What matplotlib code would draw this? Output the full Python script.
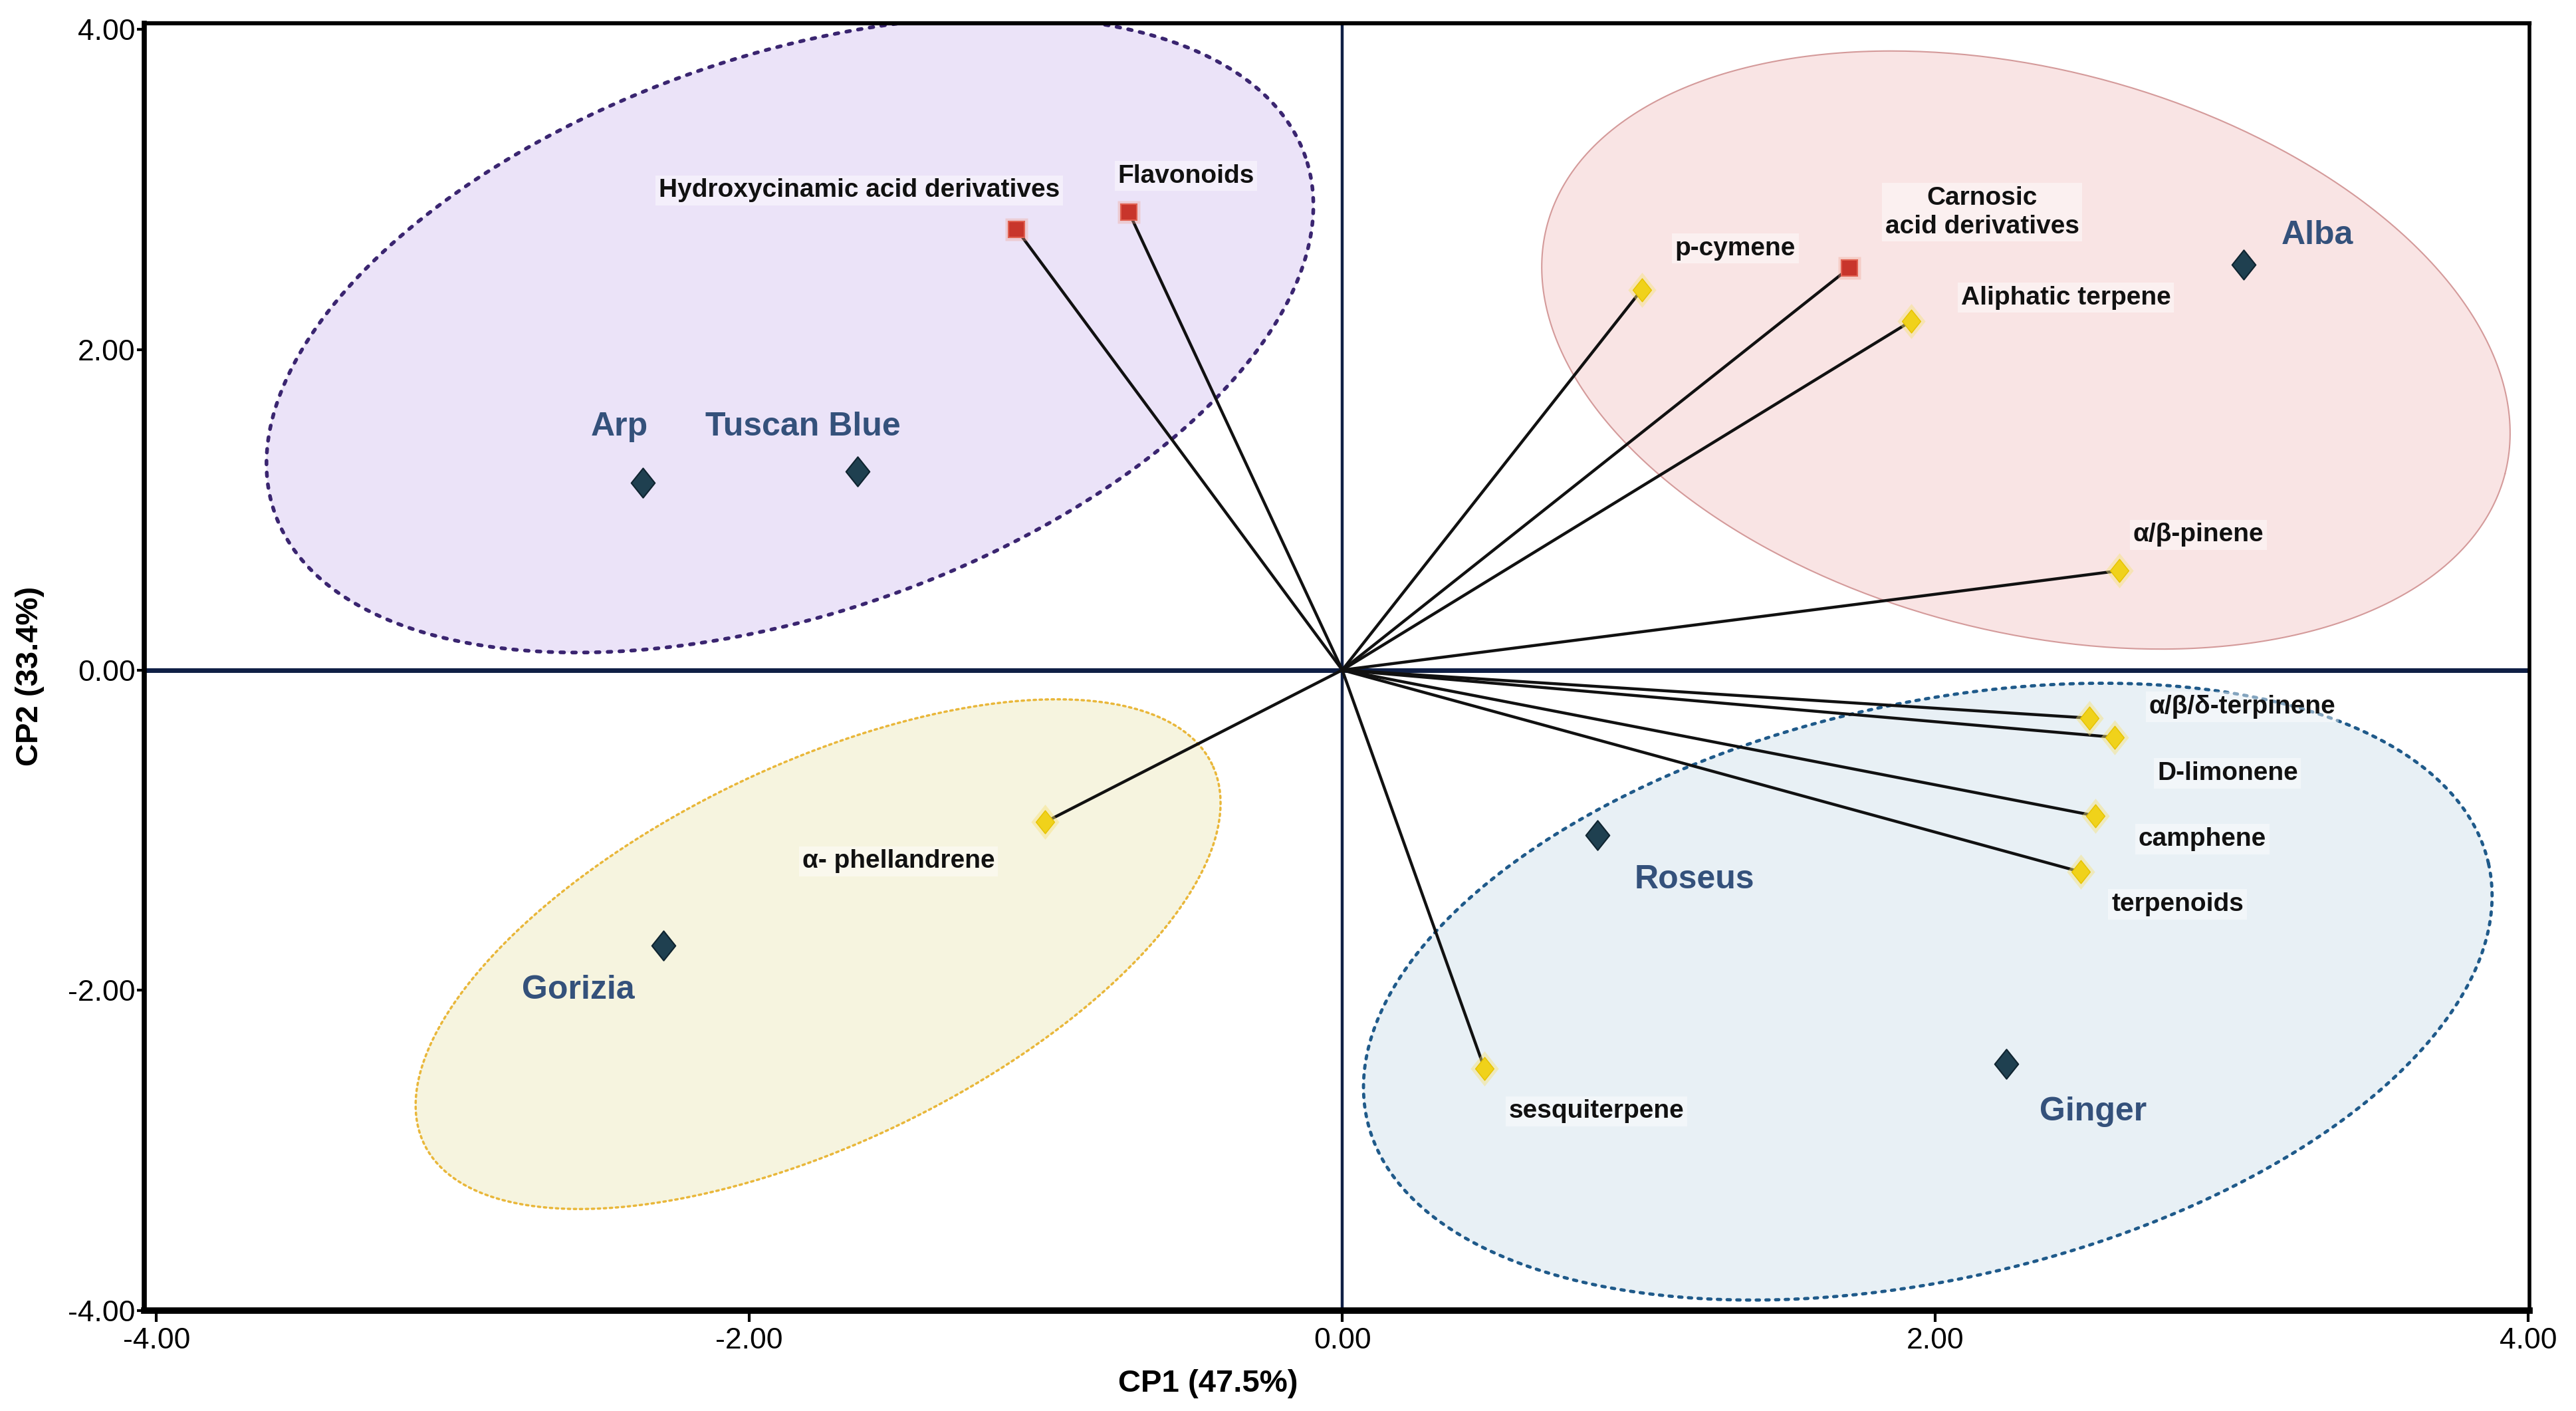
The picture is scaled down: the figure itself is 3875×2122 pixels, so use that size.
import numpy as np
import matplotlib
matplotlib.use("Agg")
import matplotlib.pyplot as plt
from matplotlib.patches import Polygon
from matplotlib.path import Path

plt.rcParams['font.family'] = ['Liberation Sans', 'DejaVu Sans']

# ---------------- data ----------------
samples = ["Arp", "Tuscan Blue", "Alba", "Roseus", "Ginger", "Gorizia"]
sample_cp1 = [-2.36, -1.635, 3.04, 0.86, 2.24, -2.29]
sample_cp2 = [1.17, 1.24, 2.53, -1.03, -2.46, -1.72]
sample_label_offset = [(-35, 84), (-82, 67), (111, 44), (146, -67), (131, -72), (-128, -67)]

variables = ["Hydroxycinamic acid derivatives", "Flavonoids", "p-cymene",
             "Carnosic\nacid derivatives", "Aliphatic terpene", "α/β-pinene",
             "α/β/δ-terpinene", "D-limonene", "camphene", "terpenoids",
             "sesquiterpene", "α- phellandrene"]
var_cp1 = [-1.098, -0.72, 1.01, 1.71, 1.92, 2.62, 2.52, 2.605, 2.54, 2.49, 0.48, -1.003]
var_cp2 = [2.75, 2.86, 2.375, 2.51, 2.18, 0.62, -0.30, -0.42, -0.91, -1.26, -2.49, -0.95]
var_class = ["phenolic", "phenolic", "terpene", "phenolic", "terpene", "terpene",
             "terpene", "terpene", "terpene", "terpene", "terpene", "terpene"]
var_label_offset = [(-237, 59), (86, 54), (141, 62), (200, 84), (232, 35), (119, 54),
                    (230, 17), (170, -54), (161, -35), (146, -49), (168, -64), (-220, -59)]

# group ellipses: centre (cp1, cp2), semi-axes (in CP1 units), angle (deg)
groups = ["purple", "pink", "yellow", "blue"]
ell_cx = [-1.863, 2.306, -1.768, 1.975]
ell_cy = [2.095, 1.998, -1.774, -2.008]
ell_a = [1.839, 1.669, 1.475, 1.940]
ell_b = [0.941, 0.948, 0.637, 0.970]
ell_ang = [19.0, -14.5, 25.7, 12.9]
ell_face = ["#ebe3f8", "#f9e4e4", "#f6f4df", "#e8f0f5"]
ell_edge = ["#3a2570", "#d49a9a", "#e9b73a", "#1f5a8a"]
ell_ls = [(0, (1, 2.2)), "-", (0, (1, 1.6)), (0, (1, 2.0))]
ell_lw = [4.0, 1.5, 2.5, 3.5]

xticks = [-4, -2, 0, 2, 4]
yticks = [-4, -2, 0, 2, 4]

# ---------------- figure ----------------
fig = plt.figure(figsize=(38.75, 21.22), dpi=100)
ax = fig.add_axes([0.0561, 0.0711, 0.9259, 0.9126])
ax.set_xlim(-4.04, 4.005)
ax.set_ylim(-4.0, 4.04)

fig.canvas.draw()
p0 = ax.transData.transform((0, 0))
pxu = ax.transData.transform((1, 0))[0] - p0[0]

t = np.linspace(0, 2 * np.pi, 400)
for cx, cy, a, b, ang, fc, ec, ls, lw in zip(ell_cx, ell_cy, ell_a, ell_b, ell_ang,
                                             ell_face, ell_edge, ell_ls, ell_lw):
    th = np.deg2rad(ang)
    u = a * pxu * np.cos(t) * np.cos(th) - b * pxu * np.sin(t) * np.sin(th)
    v = a * pxu * np.cos(t) * np.sin(th) + b * pxu * np.sin(t) * np.cos(th)
    c = ax.transData.transform((cx, cy))
    pts = ax.transData.inverted().transform(np.column_stack([c[0] + u, c[1] + v]))
    ax.add_patch(Polygon(pts, closed=True, facecolor=fc, edgecolor='none', zorder=1))
    ax.plot(np.append(pts[:, 0], pts[0, 0]), np.append(pts[:, 1], pts[0, 1]),
            color=ec, lw=lw, ls=ls, dash_capstyle='round', zorder=2)

# crosshair
ax.axhline(0, color="#0f1f45", lw=5, zorder=3)
ax.axvline(0, color="#0f1f45", lw=3.2, zorder=3)

diamond = Path([(0, 1), (0.8, 0), (0, -1), (-0.8, 0), (0, 1)],
               [Path.MOVETO, Path.LINETO, Path.LINETO, Path.LINETO, Path.CLOSEPOLY])

# loadings
for x, y in zip(var_cp1, var_cp2):
    ax.plot([0, x], [0, y], color="#111111", lw=3.2, zorder=4, solid_capstyle='round')
for x, y, cls, name, off in zip(var_cp1, var_cp2, var_class, variables, var_label_offset):
    if cls == "phenolic":
        ax.plot(x, y, marker='s', ms=24, color="#f0a090", alpha=0.35, mec='none', zorder=5)
        ax.plot(x, y, marker='s', ms=17, color="#c8352b", mec="#e06050", mew=1.5, zorder=6)
    else:
        ax.plot(x, y, marker=diamond, ms=38, color="#f6e27a", alpha=0.45, mec='none', zorder=5)
        ax.plot(x, y, marker=diamond, ms=25, color="#f0d21a", mec="#e6c200", mew=1, zorder=6)
    ax.annotate(name, (x, y), xytext=off, textcoords='offset pixels', ha='center',
                va='center', fontsize=28, fontweight='bold', color="#111111",
                linespacing=1.25, zorder=7,
                bbox=dict(boxstyle='square,pad=0.12', fc='white', ec='none', alpha=0.45))

# samples
for x, y, name, off in zip(sample_cp1, sample_cp2, samples, sample_label_offset):
    ax.plot(x, y, marker=diamond, ms=32, color="#1f4050", mec="#0f2430", mew=1.5, zorder=8)
    ax.annotate(name, (x, y), xytext=off, textcoords='offset pixels', ha='center',
                va='center', fontsize=36, fontweight='bold', color="#34517b", zorder=8)

# axes styling
ax.set_xticks(xticks)
ax.set_yticks(yticks)
ax.set_xticklabels([f"{v:.2f}" for v in xticks])
ax.set_yticklabels([f"{v:.2f}" for v in yticks])
ax.tick_params(axis='both', labelsize=32, direction='out', length=12, width=3, color='black')
ax.tick_params(axis='x', pad=6)
ax.tick_params(axis='y', pad=2, length=8)
for side, lw in zip(["left", "bottom", "top", "right"], [5.5, 7, 4.5, 4]):
    ax.spines[side].set_linewidth(lw)
    ax.spines[side].set_color('black')
    ax.spines[side].set_zorder(9)

fig.text(0.469, 0.0195, "CP1 (47.5%)", fontsize=34, fontweight='bold', ha='center', va='center')
fig.text(0.0115, 0.521, "CP2 (33.4%)", fontsize=34, fontweight='bold', ha='center',
         va='center', rotation=90)

fig.savefig("out.png", dpi=100, facecolor='white')
